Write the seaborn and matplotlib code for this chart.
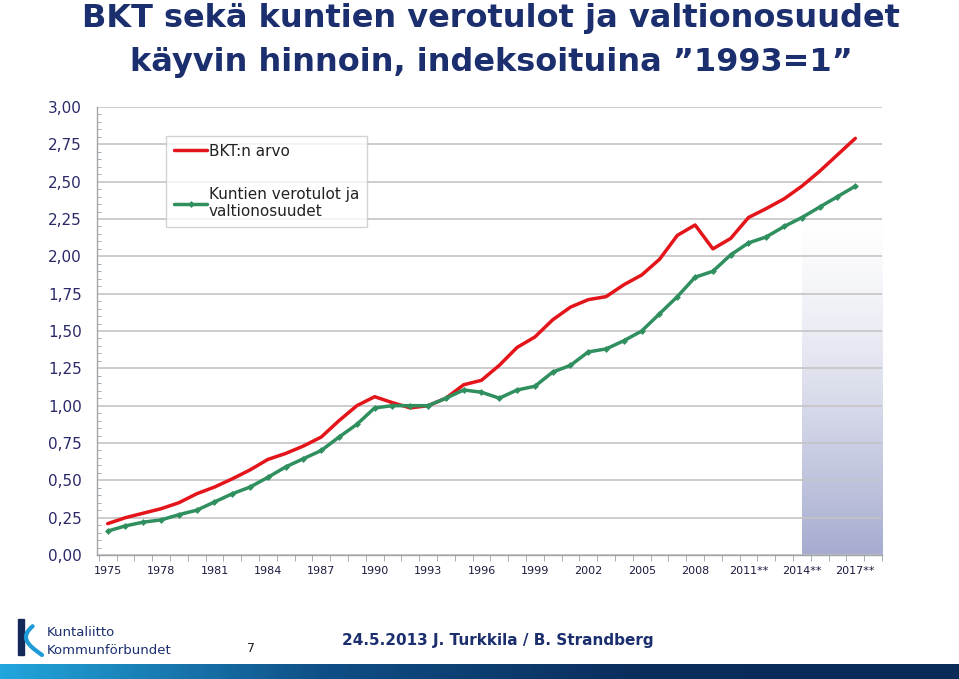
import numpy as np
import pandas as pd
import matplotlib.pyplot as plt
import seaborn as sns
from matplotlib.colors import LinearSegmentedColormap
from matplotlib.patches import Rectangle

# -------------------------------
# Data (index, 1993 = 1)
# -------------------------------
years = list(range(1975, 2018))

bkt = [0.21, 0.25, 0.28, 0.31, 0.35, 0.41, 0.455, 0.51, 0.57, 0.64,
       0.68, 0.73, 0.79, 0.90, 1.00, 1.06, 1.02, 0.985, 1.00, 1.05,
       1.14, 1.17, 1.27, 1.39, 1.46, 1.575, 1.66, 1.71, 1.73, 1.81,
       1.875, 1.98, 2.14, 2.21, 2.05, 2.12, 2.26, 2.32, 2.385, 2.47,
       2.57, 2.68, 2.79]

kunnat = [0.16, 0.195, 0.22, 0.235, 0.27, 0.30, 0.355, 0.41, 0.455, 0.52,
          0.59, 0.645, 0.70, 0.79, 0.875, 0.985, 1.00, 1.00, 1.00, 1.05,
          1.105, 1.09, 1.05, 1.105, 1.13, 1.225, 1.27, 1.36, 1.38, 1.435,
          1.50, 1.615, 1.73, 1.86, 1.90, 2.01, 2.09, 2.13, 2.20, 2.26,
          2.33, 2.40, 2.47]

series_names = ["BKT:n arvo", "Kuntien verotulot ja\nvaltionosuudet"]

xtick_years = list(range(1975, 2018, 3))
xtick_labels = ["1975", "1978", "1981", "1984", "1987", "1990", "1993", "1996",
                "1999", "2002", "2005", "2008", "2011**", "2014**", "2017**"]

ytick_values = [0.0, 0.25, 0.5, 0.75, 1.0, 1.25, 1.5, 1.75, 2.0, 2.25, 2.5, 2.75, 3.0]
ytick_labels = ["0,00", "0,25", "0,50", "0,75", "1,00", "1,25", "1,50",
                "1,75", "2,00", "2,25", "2,50", "2,75", "3,00"]

forecast_start = 2014

title_lines = ["BKT sekä kuntien verotulot ja valtionosuudet",
               "käyvin hinnoin, indeksoituina ”1993=1”"]

df = pd.DataFrame({"Vuosi": years, series_names[0]: bkt, series_names[1]: kunnat})

# -------------------------------
# Figure
# -------------------------------
sns.set_style("white")
plt.rcParams["font.family"] = ["DejaVu Sans"]

navy = "#1b2f6e"
fig = plt.figure(figsize=(9.59, 6.79), dpi=100)
ax = fig.add_axes([97 / 959, 1 - 555 / 679, 785 / 959, 448 / 679])

# forecast shading (gradient, dark at the bottom)
grad = np.linspace(1, 0, 256).reshape(-1, 1) ** 1.4
cmap = LinearSegmentedColormap.from_list("fc", ["#ffffff", "#a6acd0"])
ax.imshow(grad, extent=[forecast_start, 2018.5, 0, 2.3], aspect="auto",
          cmap=cmap, vmin=0, vmax=1, zorder=0.3, origin="lower")

sns.lineplot(data=df, x="Vuosi", y=series_names[0], ax=ax, color="#e3151a",
             linewidth=2.5, label=series_names[0], zorder=3)
sns.lineplot(data=df, x="Vuosi", y=series_names[1], ax=ax, color="#2f8f5f",
             linewidth=2.5, marker="D", markersize=3.5, markeredgewidth=0,
             label=series_names[1], zorder=3)

ax.set_xlim(1974.4, 2018.5)
ax.set_ylim(0, 3.0)
ax.set_xlabel("")
ax.set_ylabel("")

ax.set_yticks(ytick_values)
ax.set_yticklabels(ytick_labels, color="#2a2a6a", fontsize=11)
ax.set_yticks(np.arange(0, 3.001, 0.05), minor=True)
ax.tick_params(axis="y", which="major", direction="out", length=5, color="#9aa0a6", pad=6)
ax.tick_params(axis="y", which="minor", direction="in", length=3, color="#9aa0a6", left=True)

ax.set_xticks(xtick_years)
ax.set_xticklabels(xtick_labels, color="#1a1a40", fontsize=8)
ax.set_xticks(np.arange(1974.5, 2018.6, 1), minor=True)
ax.tick_params(axis="x", which="major", length=0, pad=8)
ax.tick_params(axis="x", which="minor", direction="out", length=4, color="#9aa0a6", bottom=True)

ax.grid(axis="y", which="major", color="#c4c4c4", linewidth=1.2)
ax.set_axisbelow(True)
for s in ["top", "right"]:
    ax.spines[s].set_visible(False)
for s in ["left", "bottom"]:
    ax.spines[s].set_color("#a0a4a8")
    ax.spines[s].set_linewidth(1.0)

leg = ax.legend(loc="upper left", bbox_to_anchor=(0.088, 0.935), fontsize=11,
                frameon=True, fancybox=False, edgecolor="#c8c8c8",
                handlelength=2.2, handletextpad=0.1, labelspacing=1.85,
                borderpad=0.5, borderaxespad=0)
for t in leg.get_texts():
    t.set_color("#222222")

# title
fig.text(0.512, 1 - 19 / 679, title_lines[0], ha="center", va="center", fontsize=23,
         fontweight="bold", color=navy)
fig.text(0.512, 1 - 63 / 679, title_lines[1], ha="center", va="center", fontsize=23,
         fontweight="bold", color=navy)

# footer
fig.add_artist(Rectangle((18 / 959, 1 - 655 / 679), 6 / 959, 36 / 679,
                         transform=fig.transFigure, color="#14285a"))
t = np.linspace(0.2, 1.0, 50)
fig.add_artist(plt.Line2D((26 + 16 * (1 - np.sin(t * np.pi))) / 959,
                          (1 - (619 + 36 * t) / 679), transform=fig.transFigure,
                          color="#1e9ad6", linewidth=3))
fig.text(47 / 959, 1 - 633 / 679, "Kuntaliitto", fontsize=9.5, color=navy, va="center")
fig.text(47 / 959, 1 - 650 / 679, "Kommunförbundet", fontsize=9.5, color=navy, va="center")
fig.text(251 / 959, 1 - 648 / 679, "7", fontsize=9, color="#222222", va="center", ha="center")
fig.text(342 / 959, 1 - 641 / 679, "24.5.2013 J. Turkkila / B. Strandberg", fontsize=11,
         fontweight="bold", color=navy, va="center")

bar = np.linspace(0, 1, 512).reshape(1, -1)
bax = fig.add_axes([0, 0, 1, 15 / 679])
bax.imshow(bar, aspect="auto", cmap=LinearSegmentedColormap.from_list(
    "bar", ["#22a6dc", "#0f4f86", "#0b2d5c", "#0a2a58"]))
bax.axis("off")

plt.savefig("out.png", dpi=100)
